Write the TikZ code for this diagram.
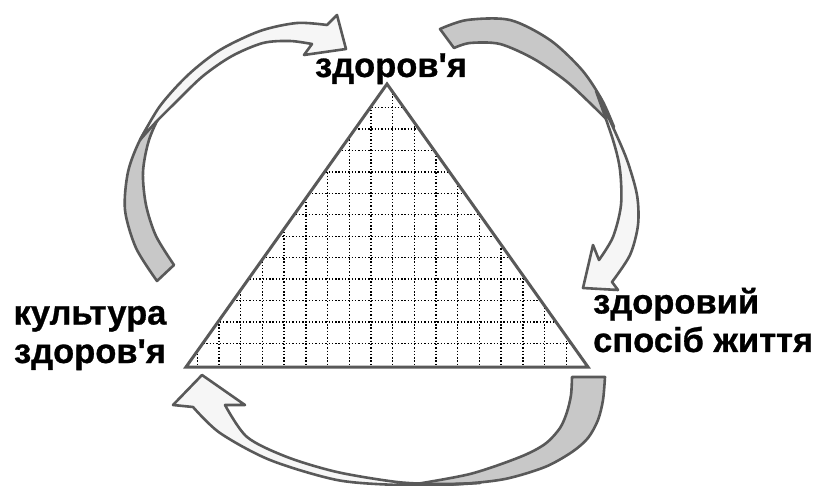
\documentclass[tikz,border=0pt]{standalone}
\usepackage{fontspec}
\setmainfont{Liberation Sans}[Ligatures=TeXOff]
\newfontfamily\lblfont{Liberation Sans Bold}[Ligatures=TeXOff, FakeBold=0.8]
\definecolor{arrowgray}{RGB}{89,89,89}
\definecolor{backfill}{RGB}{200,200,200}
\definecolor{frontfill}{RGB}{246,246,246}
\begin{document}
\begin{tikzpicture}[x=1pt,y=-1pt,
  edge/.style={draw=arrowgray, line width=2.6pt, line join=round},
  backside/.style={edge, fill=backfill},
  frontside/.style={edge, fill=frontfill},
  lbl/.style={font=\lblfont\fontsize{34.5}{38.5}\selectfont, inner sep=0pt},
  gridline/.style={line width=1.4pt, dash pattern=on 1.4pt off 1.9pt, black}]
\useasboundingbox (0,0) rectangle (814,486);

% triangle
\coordinate (apex) at (387,84);
\coordinate (bl) at (186,367);
\coordinate (br) at (588,367);
\fill[white] (apex)--(bl)--(br)--cycle;
\begin{scope}
  \clip (apex)--(bl)--(br)--cycle;
  \foreach \k in {0,...,17} \draw[gridline] ({197.3+21.7*\k},80) -- ({197.3+21.7*\k},370);
  \foreach \j in {0,...,11} \draw[gridline] (180,{343.5-21.45*\j}) -- (600,{343.5-21.45*\j});
\end{scope}
\draw[arrowgray, line width=3pt, line join=miter] (apex)--(bl)--(br)--cycle;

% left arrow
\draw[backside] plot[smooth] coordinates {(157,281) (136,248) (125,210) (128,172) (140,140) (160,109) (185,81) (205,61)}
  -- plot[smooth] coordinates {(205,61) (182,87) (162,112) (149,140) (143,172) (146,205) (156,236) (174,265)} -- cycle;
\draw[frontside] plot[smooth] coordinates {(140,140) (160,106) (188,75) (220,50) (260,31) (297,23) (327,25)}
  -- (337,15) -- (346,49) -- (304,55) --
  plot[smooth] coordinates {(312,44) (290,41) (263,43) (232,56) (203,76) (176,102) (156,122) (140,140)} -- cycle;

% right arrow
\draw[backside] plot[smooth] coordinates {(440,29) (467,20) (510,20) (550,40) (582,70) (602,100) (614,127)}
  -- plot[smooth] coordinates {(614,127) (592,105) (566,81) (534,59) (500,44) (470,43) (454,48)} -- cycle;
\draw[frontside] plot[smooth] coordinates {(596,91) (612,125) (627,160) (637,195) (638,225) (630,255) (612,282)}
  -- (618,290) -- (583,288) -- (593,245) --
  plot[smooth] coordinates {(599,260) (613,237) (621,205) (620,170) (613,140) (596,91)} -- cycle;

% bottom arrow
\draw[backside] (572,377) -- plot[smooth] coordinates {(605,377) (603,400) (598,420) (588,438) (572,452) (545,467) (505,479) (460,484) (410,485)}
  -- plot[smooth] coordinates {(410,485) (470,474) (520,457) (545,444) (560,428) (567,412) (571,395) (572,377)} -- cycle;
\draw[frontside] plot[smooth] coordinates {(480,483) (440,485) (397,485) (337,480) (270,460) (220,433) (193,407)}
  -- (173,405) -- (202,375) -- (245,405) --
  plot[smooth] coordinates {(225,405) (247,437) (287,457) (337,472) (397,482) (440,484) (480,483)} -- cycle;

% labels
\node[lbl, anchor=base] (health) at (391,77) {здоров'я};
\node[lbl, align=center, anchor=base] (culture) at (90,363) {культура\\здоров'я};
\node[lbl, align=left, anchor=base west] (lifestyle) at (593,352) {здоровий\\спосіб життя};
\end{tikzpicture}
\end{document}
